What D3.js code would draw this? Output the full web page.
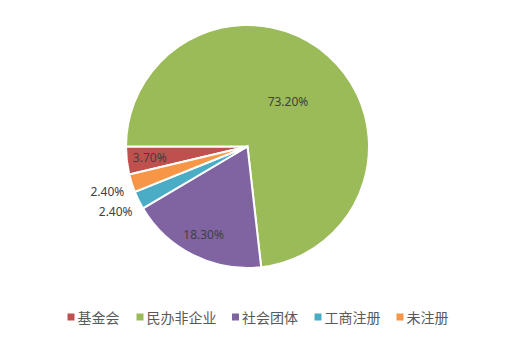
<!DOCTYPE html>
<html><head><meta charset="utf-8">
<script src="https://cdn.jsdelivr.net/npm/d3@7"></script>
<style>body{margin:0;background:#fff}svg{display:block}</style>
</head><body>
<script>
const categories = ["基金会","民办非企业","社会团体","工商注册","未注册"];
const values = [3.7, 73.2, 18.3, 2.4, 2.4];
const labels = ["3.70%","73.20%","18.30%","2.40%","2.40%"];
const colors = ["#C0504D","#9BBB59","#8064A2","#4BACC6","#F79646"];

const W=512,H=338, cx=247.5, cy=146.5, R=121.5;
const svg=d3.select("body").append("svg").attr("width",W).attr("height",H);
const g=svg.append("g").attr("transform",`translate(${cx},${cy})`);
const startDeg = 256.7;
const pie=d3.pie().sort(null).value(d=>d)
  .startAngle(startDeg*Math.PI/180).endAngle((startDeg+360)*Math.PI/180);
const arcs=pie(values);
const arc=d3.arc().innerRadius(0).outerRadius(R);
g.selectAll("path").data(arcs).enter().append("path")
  .attr("d",arc).attr("fill",(d,i)=>colors[i])
  .attr("stroke","#fff").attr("stroke-width",2).attr("stroke-linejoin","miter");
const lblR=[0.81,0.5,0.81,1.21,1.21];
g.selectAll("text").data(arcs).enter().append("text")
  .attr("x",(d,i)=>Math.sin((d.startAngle+d.endAngle)/2)*R*lblR[i])
  .attr("y",(d,i)=>-Math.cos((d.startAngle+d.endAngle)/2)*R*lblR[i])
  .attr("text-anchor","middle").attr("dominant-baseline","central")
  .attr("font-family","'Noto Sans','Liberation Sans',sans-serif").attr("font-size",12)
  .attr("fill","#404040").text((d,i)=>labels[i]);
const legX=[67.5,136.5,232,314.5,396.5];
const lg=svg.append("g").selectAll("g").data(categories).enter().append("g")
  .attr("transform",(d,i)=>`translate(${legX[i]},317)`);
lg.append("rect").attr("x",0).attr("y",-3.5).attr("width",7).attr("height",7).attr("fill",(d,i)=>colors[i]);
lg.append("text").attr("x",10).attr("y",0).attr("dominant-baseline","central")
  .attr("font-family","'Noto Sans CJK SC',sans-serif").attr("font-size",14)
  .attr("fill","#595959").text(d=>d);
</script>
</body></html>
